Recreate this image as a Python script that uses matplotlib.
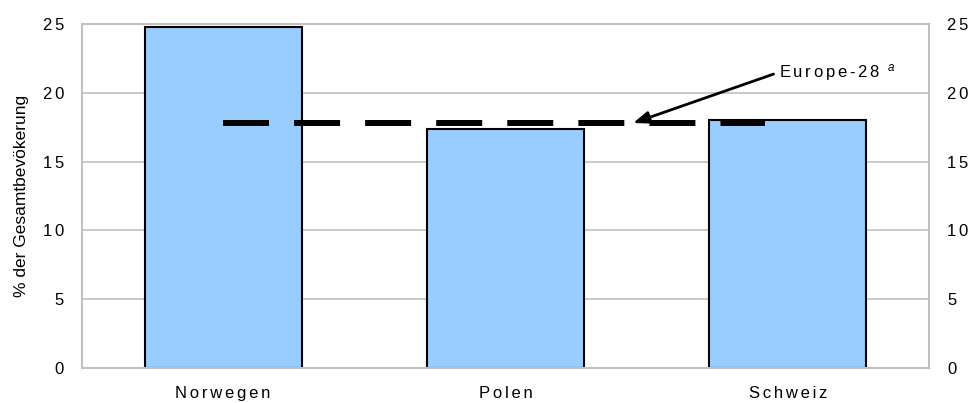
import matplotlib.pyplot as plt
import numpy as np

plt.rcParams['font.family'] = ['Liberation Sans', 'DejaVu Sans']
plt.rcParams['mathtext.fontset'] = 'custom'
plt.rcParams['mathtext.rm'] = 'Liberation Sans'
plt.rcParams['mathtext.it'] = 'Liberation Sans:italic'

# data
countries = ['Norwegen', 'Polen', 'Schweiz']
shares = [24.8, 17.4, 18.0]
europe_28 = 17.8
europe_span = [0, 1.92]
y_ticks = [0, 5, 10, 15, 20, 25]


def spaced(s):
    # the original text is drawn wide, mimic with six-per-em spaces
    return '\u2006'.join(s)


fig = plt.figure(figsize=(9.7, 4.03), dpi=100)
ax = fig.add_axes([0.0845, 0.0868, 0.8732, 0.8536])

x = np.arange(len(countries))
ax.bar(x, shares, width=0.556, color='#99CCFF', edgecolor='black',
       linewidth=1.5, zorder=2)

# Europe-28 reference line
ax.hlines(europe_28, europe_span[0], europe_span[1], colors='black',
          linewidth=4.3, linestyles=(0, (7.7, 4.2)), zorder=3,
          capstyle='butt')

ax.annotate(spaced('Europe-28') + '\u2002$^{\\it a}$', xy=(1.452, europe_28),
            xytext=(1.969, 21.5), fontsize=12, va='center', ha='left',
            arrowprops=dict(arrowstyle='-|>,head_length=0.8,head_width=0.3',
                            color='black', lw=2, relpos=(0, 0.5),
                            shrinkA=2, shrinkB=0), zorder=4)

ax.set_xlim(-0.5, 2.5)
ax.set_ylim(0, 25)
ax.set_yticks(y_ticks)
ax.set_yticklabels([spaced(str(v)) for v in y_ticks])
ax.set_xticks(x)
ax.set_xticklabels([spaced(c) for c in countries], fontsize=12)
ax.tick_params(axis='y', length=0, labelsize=12, pad=13,
               labelright=True, right=False)
ax.tick_params(axis='x', length=0, pad=13)
ax.grid(axis='y', color='#c0c0c0', linewidth=1.2, zorder=0)
ax.set_axisbelow(True)
for s in ax.spines.values():
    s.set_color('#c0c0c0')
    s.set_linewidth(1.5)
ax.set_ylabel('% der Gesamtbevökerung', fontsize=12.5, labelpad=10)

fig.savefig('out.png', dpi=100)
